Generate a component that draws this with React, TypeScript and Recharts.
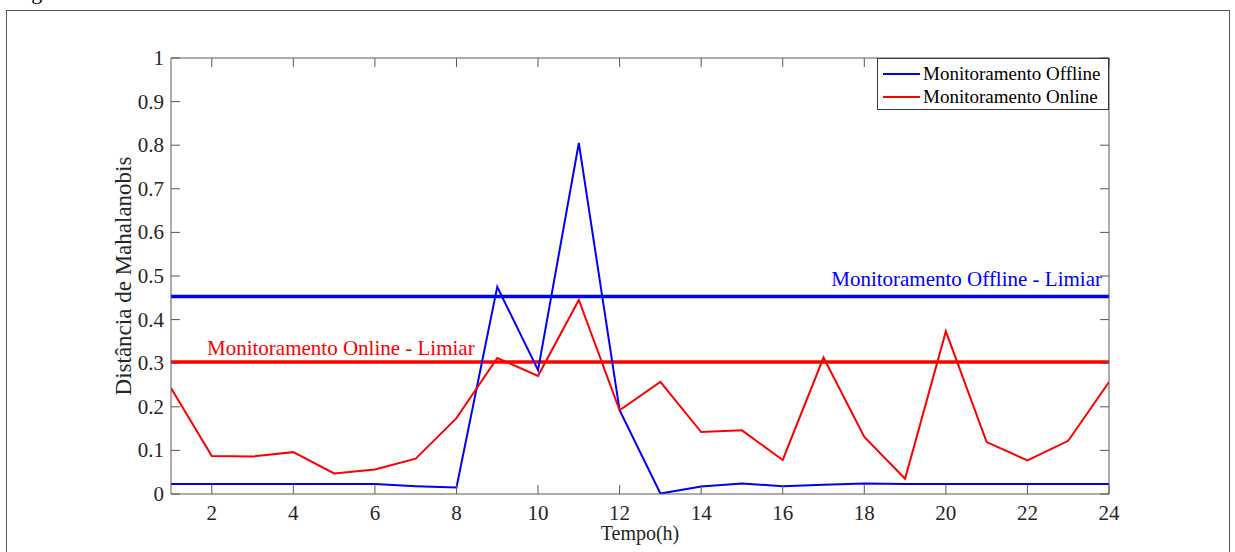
import React from "react";
import {
  LineChart,
  Line,
  XAxis,
  YAxis,
  ReferenceLine,
} from "recharts";

// Tempo em horas (1..24)
const hours = [1, 2, 3, 4, 5, 6, 7, 8, 9, 10, 11, 12, 13, 14, 15, 16, 17, 18, 19, 20, 21, 22, 23, 24];

// Distância de Mahalanobis
const offline = [
  0.023, 0.023, 0.023, 0.023, 0.023, 0.023, 0.018, 0.015, 0.475, 0.284, 0.805, 0.192,
  0.001, 0.017, 0.024, 0.018, 0.021, 0.024, 0.023, 0.023, 0.023, 0.023, 0.023, 0.023,
];
const online = [
  0.243, 0.087, 0.086, 0.096, 0.047, 0.056, 0.081, 0.174, 0.312, 0.271, 0.445, 0.192,
  0.257, 0.142, 0.146, 0.078, 0.313, 0.131, 0.035, 0.373, 0.119, 0.077, 0.122, 0.257,
];

const limiarOffline = 0.453;
const limiarOnline = 0.303;

const xTicks = [2, 4, 6, 8, 10, 12, 14, 16, 18, 20, 22, 24];
const yTicks = [0, 0.1, 0.2, 0.3, 0.4, 0.5, 0.6, 0.7, 0.8, 0.9, 1];

const legendItems = [
  { name: "Monitoramento Offline", color: "#0000ff" },
  { name: "Monitoramento Online", color: "#ff0000" },
];

const data = hours.map((h, i) => ({ h, offline: offline[i], online: online[i] }));

const FONT = "'Liberation Serif', 'Times New Roman', serif";
const TXT = "#262626";
const AX = "#5a5a5a";
const BLUE = "#0000ff";
const RED = "#ff0000";
const TL = 9;

const fmtY = (v: number) => (v === 0 ? "0" : v === 1 ? "1" : v.toFixed(1));

function BottomTick({ x, y, payload }: any) {
  return (
    <g>
      <line x1={x} y1={y} x2={x} y2={y - TL} stroke={AX} />
      <text x={x} y={y + 26} textAnchor="middle" fill={TXT} fontSize={21} fontFamily={FONT}>
        {payload.value}
      </text>
    </g>
  );
}

function TopTick({ x, y }: any) {
  return <line x1={x} y1={y} x2={x} y2={y + TL} stroke={AX} />;
}

function LeftTick({ x, y, payload }: any) {
  return (
    <g>
      <line x1={x} y1={y} x2={x + TL} y2={y} stroke={AX} />
      <text x={x - 7} y={y + 7} textAnchor="end" fill={TXT} fontSize={21} fontFamily={FONT}>
        {fmtY(payload.value)}
      </text>
    </g>
  );
}

function RightTick({ x, y }: any) {
  return <line x1={x} y1={y} x2={x - TL} y2={y} stroke={AX} />;
}

function LegendBox() {
  return (
    <div
      style={{
        position: "absolute",
        left: 877,
        top: 58,
        width: 232,
        height: 52,
        border: "1px solid #3a3a3a",
        background: "#fff",
        boxSizing: "border-box",
        paddingTop: 3,
        fontFamily: FONT,
        fontSize: 19,
        color: "#000",
      }}
    >
      {legendItems.map((r) => (
        <div key={r.name} style={{ display: "flex", alignItems: "center", height: 23 }}>
          <span style={{ display: "inline-block", width: 37, height: 2, background: r.color, marginLeft: 5, marginRight: 3 }} />
          <span style={{ whiteSpace: "nowrap" }}>{r.name}</span>
        </div>
      ))}
    </div>
  );
}

export default function App() {
  return (
    <div style={{ position: "absolute", left: 0, top: 0, width: 1235, height: 552, overflow: "hidden", background: "#fff" }}>
      <svg style={{ position: "absolute", left: 0, top: 0, overflow: "visible" }} width={200} height={10}>
        <text x={13} y={-1} fontSize={22} fontFamily={FONT} fill="#000">Figura</text>
      </svg>
      <div
        style={{
          position: "absolute",
          left: 6,
          top: 10,
          width: 1224,
          height: 600,
          border: "1px solid #555",
          boxSizing: "border-box",
        }}
      />
      <div style={{ position: "absolute", left: 0, top: 0 }}>
        <LineChart
          width={1235}
          height={552}
          data={data}
          margin={{ top: 57, right: 125, bottom: 57, left: 170 }}
        >
          <XAxis
            xAxisId="b"
            dataKey="h"
            type="number"
            domain={[1, 24]}
            allowDataOverflow
            ticks={xTicks}
            height={1}
            tickSize={0}
            tickMargin={0}
            tickLine={false}
            axisLine={{ stroke: AX }}
            tick={<BottomTick />}
            interval={0}
            label={{
              content: ({ viewBox }: any) => (
                <text
                  x={viewBox.x + viewBox.width / 2}
                  y={viewBox.y + 46}
                  textAnchor="middle"
                  fill={TXT}
                  fontSize={20}
                  fontFamily={FONT}
                >
                  Tempo(h)
                </text>
              ),
            }}
          />
          <XAxis
            xAxisId="t"
            dataKey="h"
            orientation="top"
            type="number"
            domain={[1, 24]}
            allowDataOverflow
            ticks={xTicks}
            height={1}
            tickSize={0}
            tickMargin={0}
            tickLine={false}
            axisLine={{ stroke: AX }}
            tick={<TopTick />}
            interval={0}
          />
          <YAxis
            yAxisId="l"
            type="number"
            domain={[0, 1]}
            allowDataOverflow
            ticks={yTicks}
            width={1}
            tickSize={0}
            tickMargin={0}
            tickLine={false}
            axisLine={{ stroke: AX }}
            tick={<LeftTick />}
            interval={0}
            label={{
              content: ({ viewBox }: any) => {
                const cx = viewBox.x + viewBox.width - 40;
                const cy = viewBox.y + viewBox.height / 2;
                return (
                  <text
                    x={cx}
                    y={cy}
                    transform={`rotate(-90 ${cx} ${cy})`}
                    textAnchor="middle"
                    fill={TXT}
                    fontSize={23}
                    fontFamily={FONT}
                  >
                    Distância de Mahalanobis
                  </text>
                );
              },
            }}
          />
          <YAxis
            yAxisId="r"
            dataKey="online"
            orientation="right"
            type="number"
            domain={[0, 1]}
            allowDataOverflow
            ticks={yTicks}
            width={1}
            tickSize={0}
            tickMargin={0}
            tickLine={false}
            axisLine={{ stroke: AX }}
            tick={<RightTick />}
            interval={0}
          />
          <ReferenceLine
            xAxisId="b"
            yAxisId="l"
            y={limiarOffline}
            stroke={BLUE}
            strokeWidth={3.5}
            label={{
              content: ({ viewBox }: any) => (
                <text
                  x={viewBox.x + viewBox.width - 7}
                  y={viewBox.y - 10}
                  textAnchor="end"
                  fill={BLUE}
                  fontSize={21}
                  fontFamily={FONT}
                >
                  Monitoramento Offline - Limiar
                </text>
              ),
            }}
          />
          <ReferenceLine
            xAxisId="b"
            yAxisId="l"
            y={limiarOnline}
            stroke={RED}
            strokeWidth={3.5}
            label={{
              content: ({ viewBox }: any) => (
                <text
                  x={viewBox.x + 36}
                  y={viewBox.y - 7}
                  textAnchor="start"
                  fill={RED}
                  fontSize={21}
                  fontFamily={FONT}
                >
                  Monitoramento Online - Limiar
                </text>
              ),
            }}
          />
          <Line
            xAxisId="b"
            yAxisId="l"
            dataKey="offline"
            name="Monitoramento Offline"
            stroke={BLUE}
            strokeWidth={2}
            dot={false}
            isAnimationActive={false}
          />
          <Line
            xAxisId="b"
            yAxisId="l"
            dataKey="online"
            name="Monitoramento Online"
            stroke={RED}
            strokeWidth={2}
            dot={false}
            isAnimationActive={false}
          />
        </LineChart>
      </div>
      <LegendBox />
    </div>
  );
}
